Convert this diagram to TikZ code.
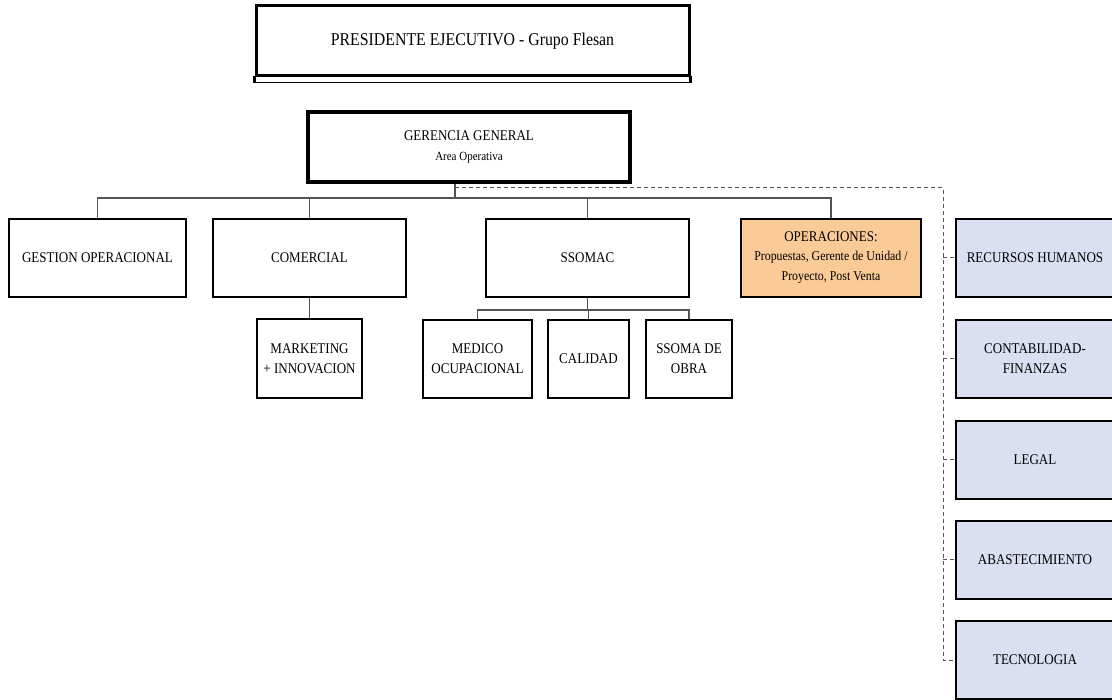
\documentclass[tikz,border=0pt]{standalone}
\usepackage{fontspec}
\setmainfont{Liberation Serif}[FakeStretch=0.88]
\definecolor{opsfill}{HTML}{FBCB97}
\definecolor{staffill}{HTML}{DAE0F2}
\definecolor{linkgray}{HTML}{555555}
\begin{document}
\begin{tikzpicture}[x=1pt,y=-1pt,
  unit/.style={draw=black, line width=1.5pt, align=center, inner sep=0pt,
    minimum height=78pt, font=\fontsize{14.8}{20}\selectfont},
  subunit/.style={unit, line width=2pt, minimum height=78pt},
  staffbox/.style={unit, line width=2pt, fill=staffill, minimum width=158pt},
  link/.style={draw=linkgray, line width=1.2pt},
  stafflink/.style={draw=linkgray, line width=1pt, dash pattern=on 4pt off 3pt}]
\useasboundingbox (0,0) rectangle (1112,700);

% top of the hierarchy
\node[unit, line width=3pt, minimum width=433pt, minimum height=70pt,
      font=\fontsize{18}{22}\selectfont] (pres) at (472.5,41)
      {PRESIDENTE EJECUTIVO - Grupo Flesan};
\draw[line width=3pt] ([yshift=1.5pt]pres.south west) -- ([yshift=-6pt]pres.south west);
\draw[line width=3pt] ([yshift=1.5pt]pres.south east) -- ([yshift=-6pt]pres.south east);
\draw[line width=0.9pt] ([yshift=-5pt]pres.south west) -- ([yshift=-5pt]pres.south east);

\node[unit, line width=4pt, minimum width=322pt, minimum height=70pt] (ger) at (469,147)
      {GERENCIA GENERAL\\[0pt]{\fontsize{12.5}{16}\selectfont Area Operativa}};

% operational units
\node[unit, minimum width=177pt] (gest) at (97.5,258) {GESTION OPERACIONAL};
\node[unit, minimum width=193pt] (com) at (309.5,258) {COMERCIAL};
\node[unit, minimum width=203pt] (ssomac) at (587.5,258) {SSOMAC};
\node[unit, fill=opsfill, minimum width=180pt] (ops) at (831,258)
      {OPERACIONES:\\[-1pt]{\fontsize{13.5}{18}\selectfont Propuestas, Gerente de Unidad /}\\[0pt]
       {\fontsize{13.5}{18}\selectfont Proyecto, Post Venta}};

\node[unit, line width=1.8pt, minimum width=105pt, minimum height=79pt] (mkt) at (309.5,358.5)
      {MARKETING\\+ INNOVACION};

\node[subunit, minimum width=109pt] (med) at (477.5,359) {MEDICO\\OCUPACIONAL};
\node[subunit, minimum width=81pt] (cal) at (588.5,359) {CALIDAD};
\node[subunit, minimum width=86pt] (obra) at (689,359) {SSOMA DE\\OBRA};

% staff units
\node[staffbox] (rh) at (1035,258) {RECURSOS HUMANOS};
\node[staffbox] (cont) at (1035,359) {CONTABILIDAD-\\FINANZAS};
\node[staffbox] (legal) at (1035,460) {LEGAL};
\node[staffbox] (abast) at (1035,560) {ABASTECIMIENTO};
\node[staffbox] (tec) at (1035,660) {TECNOLOGIA};

% solid reporting lines
\coordinate (gdrop) at (455,198);
\coordinate (bus) at (0,198);
\draw[link] (gdrop |- ger.south) -- (gdrop);
\draw[link] (gest.north) |- (ops.north |- bus) -- (ops.north);
\draw[link] (com.north |- bus) -- (com.north);
\draw[link] (ssomac.north |- bus) -- (ssomac.north);
\draw[link] (com.south) -- (mkt.north);
\coordinate (sbus) at (0,310);
\draw[link] (ssomac.south) -- (ssomac.south |- sbus);
\draw[link] (med.north) |- (obra.north |- sbus) -- (obra.north);
\draw[link] (cal.north |- sbus) -- (cal.north);

% dashed staff lines
\coordinate (split) at (455,188);
\coordinate (dcol) at (943,0);
\draw[stafflink] (split) -| (tec.west -| dcol) -- (tec.west);
\foreach \n in {rh,cont,legal,abast}
  \draw[stafflink] (\n.west -| dcol) -- (\n.west);
\end{tikzpicture}
\end{document}
